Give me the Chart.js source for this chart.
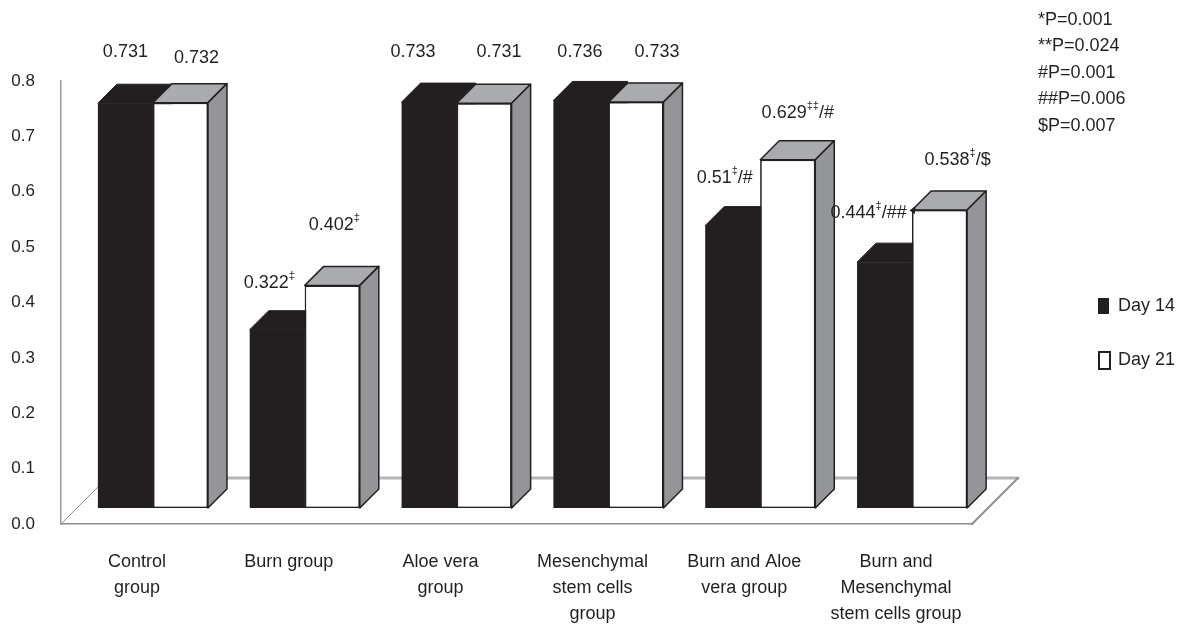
<!DOCTYPE html>
<html>
<head>
<meta charset="utf-8">
<script src="https://cdn.jsdelivr.net/npm/chart.js@4.4.1/dist/chart.umd.min.js"></script>
<style>
  html, body { margin: 0; padding: 0; background: #fff; }
</style>
</head>
<body>
<canvas id="chart" width="1184" height="624"></canvas>
<script>
const categories = [
  ['Control', 'group'],
  'Burn group',
  ['Aloe vera', 'group'],
  ['Mesenchymal', 'stem cells', 'group'],
  ['Burn and Aloe', 'vera group'],
  ['Burn and', 'Mesenchymal', 'stem cells group']
];
const day14 = [0.731, 0.322, 0.733, 0.736, 0.51, 0.444];
const day21 = [0.732, 0.402, 0.731, 0.733, 0.629, 0.538];

// significance marks printed after each value
const day14Marks = ['', '‡', '', '', '‡', '‡'];
const day14Tails = ['', '', '', '', '/#', '/##'];
const day21Marks = ['', '‡', '', '', '‡‡', '‡'];
const day21Tails = ['', '', '', '', '/#', '/$'];

const yTicks = [0, 0.1, 0.2, 0.3, 0.4, 0.5, 0.6, 0.7, 0.8];
const pValueNotes = ['*P=0.001', '**P=0.024', '#P=0.001', '##P=0.006', '$P=0.007'];

// hand-placed value labels: [dx, dy] from the default spot above each bar
const day14Nudge = [[0, -2], [-8, 2], [-16, -1], [-1, 1], [-8, 1], [-16, 0]];
const day21Nudge = [[16, 4], [2, -11], [15, -2], [21, -1], [10, 2], [18, -1]];

const INK = '#231f20';
const FONT = '"Liberation Sans", Arial, Helvetica, sans-serif';
const DEPTH = 19;   // extrusion of each bar
const SHIFT = 16;   // bars stand this far back on the floor
const FLOOR = 46;   // depth of the floor plate

function font(size) {
  return size + 'px ' + FONT;
}

function drawValueLabel(ctx, cx, cy, value, mark, tail) {
  const main = String(value);
  ctx.font = font(18);
  const wMain = ctx.measureText(main).width;
  const wTail = ctx.measureText(tail).width;
  ctx.font = font(11);
  const wMark = ctx.measureText(mark).width;
  let x = cx - (wMain + wMark + wTail) / 2;
  ctx.textAlign = 'left';
  ctx.textBaseline = 'middle';
  ctx.fillStyle = INK;
  ctx.font = font(18);
  ctx.fillText(main, x, cy);
  x += wMain;
  ctx.font = font(11);
  ctx.fillText(mark, x, cy - 7);
  x += wMark;
  ctx.font = font(18);
  ctx.fillText(tail, x, cy);
  return x + wTail;
}

// top and right faces of one bar
function extrude(ctx, bar, solid) {
  const { x, y, base, width } = bar.getProps(['x', 'y', 'base', 'width'], true);
  const l = x - width / 2;
  const r = x + width / 2;

  ctx.beginPath();
  ctx.moveTo(l, y);
  ctx.lineTo(l + DEPTH, y - DEPTH);
  ctx.lineTo(r + DEPTH, y - DEPTH);
  ctx.lineTo(r, y);
  ctx.closePath();
  ctx.fillStyle = solid ? INK : '#a9abae';
  ctx.fill();
  ctx.strokeStyle = INK;
  ctx.lineWidth = solid ? 1 : 1.5;
  ctx.stroke();

  ctx.beginPath();
  ctx.moveTo(r, y);
  ctx.lineTo(r + DEPTH, y - DEPTH);
  ctx.lineTo(r + DEPTH, base - DEPTH);
  ctx.lineTo(r, base);
  ctx.closePath();
  ctx.fillStyle = solid ? INK : '#939598';
  ctx.fill();
  ctx.stroke();
}

const bars3d = {
  id: 'bars3d',
  beforeDatasetsDraw(chart) {
    const { ctx, chartArea: a } = chart;
    ctx.save();
    ctx.lineCap = 'round';
    // back edge of the floor
    ctx.strokeStyle = '#b5b5b5';
    ctx.lineWidth = 3;
    ctx.beginPath();
    ctx.moveTo(a.left + FLOOR, a.bottom - FLOOR);
    ctx.lineTo(a.right + FLOOR, a.bottom - FLOOR);
    ctx.stroke();
    // side edges of the floor
    ctx.strokeStyle = '#8c8c8c';
    ctx.lineWidth = 2;
    ctx.beginPath();
    ctx.moveTo(a.right, a.bottom);
    ctx.lineTo(a.right + FLOOR, a.bottom - FLOOR);
    ctx.stroke();
    ctx.lineWidth = 1;
    ctx.beginPath();
    ctx.moveTo(a.left, a.bottom);
    ctx.lineTo(a.left + FLOOR, a.bottom - FLOOR);
    ctx.stroke();
    ctx.restore();

    ctx.save();
    ctx.translate(SHIFT, -SHIFT);
  },
  afterDatasetsDraw(chart) {
    const { ctx } = chart;
    const dark = chart.getDatasetMeta(0).data;
    const light = chart.getDatasetMeta(1).data;
    ctx.save();
    ctx.lineJoin = 'round';
    // dark blocks sit behind the white ones, so the white bars go on top again
    dark.forEach((bar) => extrude(ctx, bar, true));
    light.forEach((bar) => {
      bar.draw(ctx);
      extrude(ctx, bar, false);
    });
    ctx.restore();
    ctx.restore();
  },
  afterDraw(chart) {
    const { ctx } = chart;
    ctx.save();

    // value labels over the bars
    const series = [
      [day14, day14Marks, day14Tails, day14Nudge],
      [day21, day21Marks, day21Tails, day21Nudge]
    ];
    series.forEach(([values, marks, tails, nudge], di) => {
      chart.getDatasetMeta(di).data.forEach((bar, i) => {
        const cx = bar.x + SHIFT + nudge[i][0];
        const cy = bar.y - SHIFT - DEPTH - 30 + nudge[i][1];
        const end = drawValueLabel(ctx, cx, cy, values[i], marks[i], tails[i]);
        if (di === 0 && i === categories.length - 1) {
          // small leader arrow toward the bar
          ctx.beginPath();
          ctx.moveTo(end + 3, cy - 3);
          ctx.lineTo(end + 9, cy - 7);
          ctx.lineTo(end + 8, cy + 1);
          ctx.closePath();
          ctx.fill();
        }
      });
    });

    // p-value notes, top right
    ctx.font = font(18);
    ctx.textAlign = 'left';
    ctx.textBaseline = 'middle';
    ctx.fillStyle = INK;
    pValueNotes.forEach((note, i) => {
      ctx.fillText(note, 1038, 20 + i * 26.4);
    });

    // legend
    chart.data.datasets.forEach((ds, i) => {
      const y = 306 + i * 54;
      ctx.fillStyle = ds.backgroundColor;
      ctx.fillRect(1098, y - 8, 11, 16);
      if (ds.borderWidth) {
        ctx.strokeStyle = ds.borderColor;
        ctx.lineWidth = 2;
        ctx.strokeRect(1099, y - 8, 11, 17);
      }
      ctx.fillStyle = INK;
      ctx.fillText(ds.label, 1118, y);
    });
    ctx.restore();
  }
};

new Chart(document.getElementById('chart'), {
  type: 'bar',
  data: {
    labels: categories,
    datasets: [
      {
        label: 'Day 14',
        data: day14,
        backgroundColor: INK,
        borderWidth: 0
      },
      {
        label: 'Day 21',
        data: day21,
        backgroundColor: '#ffffff',
        borderColor: INK,
        borderWidth: 1.5,
        borderSkipped: false
      }
    ]
  },
  options: {
    responsive: false,
    animation: false,
    devicePixelRatio: 1,
    layout: { padding: { top: 81, right: 212, bottom: 0, left: 0 } },
    datasets: {
      bar: { categoryPercentage: 0.725, barPercentage: 1, clip: false }
    },
    plugins: {
      legend: { display: false },
      tooltip: { enabled: false }
    },
    scales: {
      x: {
        grid: { display: false, drawTicks: false },
        border: { color: '#8c8c8c', width: 1.5 },
        ticks: {
          color: INK,
          font: { family: FONT, size: 18, lineHeight: 1.45 },
          padding: 25,
          maxRotation: 0,
          autoSkip: false
        },
        afterFit: (scale) => { scale.height = 100; }
      },
      y: {
        min: 0,
        max: 0.8,
        grid: { display: false, drawTicks: false },
        border: { color: '#9a9a9a', width: 1.5 },
        ticks: {
          color: INK,
          font: { family: FONT, size: 17 },
          padding: 26,
          callback: (v) => v.toFixed(1)
        },
        afterBuildTicks: (scale) => { scale.ticks = yTicks.map((value) => ({ value })); },
        afterFit: (scale) => { scale.width = 61; }
      }
    }
  },
  plugins: [bars3d]
});
</script>
</body>
</html>
